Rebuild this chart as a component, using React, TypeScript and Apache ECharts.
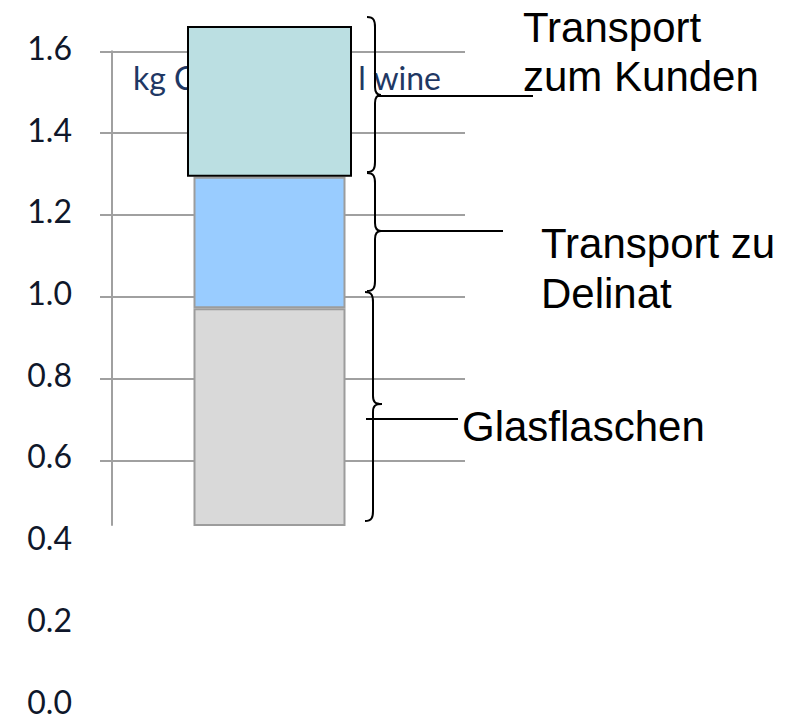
import React, { useEffect, useRef } from 'react';
import * as echarts from 'echarts';

// ---- data ----
const categories = ['Wein'];
const glasflaschen = [0.972];
const transportDelinat = [0.321];
const transportKunden = [0.369];
const seriesNames = ['Glasflaschen', 'Transport zu Delinat', 'Transport zum Kunden'];
const titleText = 'kg CO2e / 0.75 l wine';
const labelLines = [
  ['Transport', 'zum Kunden'],
  ['Transport zu', 'Delinat'],
  ['Glasflaschen'],
];

const GRID_GRAY = '#a0a0a0';
const BLACK = '#000000';

function brace(x: number, y0: number, ym: number, y1: number, tip: number) {
  const st = { stroke: BLACK, lineWidth: 2, fill: 'none' };
  return [
    { type: 'bezierCurve', z: 10, shape: { x1: x - 8, y1: y0, cpx1: x - 1, cpy1: y0, cpx2: x, cpy2: y0 + 4, x2: x, y2: y0 + 10 }, style: st },
    { type: 'line', z: 10, shape: { x1: x, y1: y0 + 10, x2: x, y2: ym - 8 }, style: st },
    { type: 'bezierCurve', z: 10, shape: { x1: x, y1: ym - 8, cpx1: x, cpy1: ym - 2, cpx2: x + 2, cpy2: ym, x2: x + tip, y2: ym }, style: st },
    { type: 'bezierCurve', z: 10, shape: { x1: x + tip, y1: ym, cpx1: x + 2, cpy1: ym, cpx2: x, cpy2: ym + 2, x2: x, y2: ym + 8 }, style: st },
    { type: 'line', z: 10, shape: { x1: x, y1: ym + 8, x2: x, y2: y1 - 10 }, style: st },
    { type: 'bezierCurve', z: 10, shape: { x1: x, y1: y1 - 10, cpx1: x, cpy1: y1 - 4, cpx2: x - 1, cpy2: y1, x2: x - 8, y2: y1 }, style: st },
  ];
}

function label(text: string, x: number, y: number) {
  return {
    type: 'text', z: 10, x, y,
    style: { text, fontSize: 42, fontFamily: '"Liberation Sans", Arial, sans-serif', fill: BLACK, verticalAlign: 'middle', align: 'left' },
  };
}

function hline(x1: number, x2: number, y: number) {
  return { type: 'line', z: 10, shape: { x1, y1: y, x2, y2: y }, style: { stroke: BLACK, lineWidth: 2 } };
}

export default function App() {
  const ref = useRef<HTMLDivElement>(null);
  useEffect(() => {
    if (!ref.current) return;
    const chart = echarts.init(ref.current, null, { renderer: 'svg' });
    const hiddenX = { type: 'category', data: categories, show: false, axisLine: { show: false }, axisTick: { show: false }, axisLabel: { show: false } };
    const splitLine = { show: true, showMinLine: false, lineStyle: { color: GRID_GRAY, width: 2 } };
    const option: any = {
      animation: false,
      backgroundColor: '#ffffff',
      grid: [
        { left: 100, top: 51.3, width: 339, height: 473.6 },
        { left: 439, top: 51.3, width: 26, height: 473.6 },
        { left: 111, top: 47.5, width: 10, height: 653.5 },
      ],
      xAxis: [
        { ...hiddenX, gridIndex: 0 },
        { ...hiddenX, gridIndex: 0 },
        { ...hiddenX, gridIndex: 1 },
        { ...hiddenX, gridIndex: 2 },
      ],
      yAxis: [
        {
          type: 'value', gridIndex: 0, min: 0.442, max: 1.6, offset: -11.5,
          axisLine: { show: true, lineStyle: { color: GRID_GRAY, width: 2 } },
          axisTick: { show: false }, axisLabel: { show: false }, splitLine,
        },
        {
          type: 'value', gridIndex: 1, min: 0.442, max: 1.6,
          axisLine: { show: false }, axisTick: { show: false }, axisLabel: { show: false }, splitLine,
        },
        {
          type: 'value', gridIndex: 2, min: 0, max: 1.6, interval: 0.2,
          axisLine: { show: false }, axisTick: { show: false }, splitLine: { show: false },
          axisLabel: {
            show: true, margin: 39, fontSize: 32, lineHeight: 22, fontFamily: 'Lato, sans-serif', color: '#0f172a',
            formatter: (v: number) => v.toFixed(1),
          },
        },
      ],
      series: [
        {
          name: seriesNames[0], type: 'bar', xAxisIndex: 0, yAxisIndex: 0, stack: 'main', barWidth: 152,
          data: glasflaschen, itemStyle: { color: '#d9d9d9', borderColor: '#9c9c9c', borderWidth: 2 },
        },
        {
          name: seriesNames[1], type: 'bar', xAxisIndex: 0, yAxisIndex: 0, stack: 'main', barWidth: 152,
          data: transportDelinat, itemStyle: { color: '#99ccff', borderColor: '#9c9c9c', borderWidth: 2 },
        },
        {
          name: 'base1', type: 'bar', xAxisIndex: 1, yAxisIndex: 0, stack: 'top', barWidth: 165, silent: true,
          data: glasflaschen, itemStyle: { color: 'transparent', borderWidth: 0 },
        },
        {
          name: 'base2', type: 'bar', xAxisIndex: 1, yAxisIndex: 0, stack: 'top', barWidth: 165, silent: true,
          data: transportDelinat, itemStyle: { color: 'transparent', borderWidth: 0 },
        },
        {
          name: seriesNames[2], type: 'bar', xAxisIndex: 1, yAxisIndex: 0, stack: 'top', barWidth: 165, clip: false,
          data: transportKunden, itemStyle: { color: '#bbdfe2', borderColor: BLACK, borderWidth: 2 },
        },
      ],
      graphic: [
        {
          type: 'text', z: 1, x: 441, y: 77,
          style: { text: titleText, fontSize: 32, fontFamily: 'Lato, sans-serif', fill: '#1f3864', verticalAlign: 'middle', align: 'right' },
        },
        ...brace(375, 17, 95, 172, 6),
        ...brace(375, 173, 231, 291, 6),
        ...brace(373, 292, 404, 521, 9),
        hline(377, 533, 96),
        hline(380, 503, 231),
        hline(366, 458, 419),
        label(labelLines[0][0], 523, 27.5),
        label(labelLines[0][1], 523, 76.5),
        label(labelLines[1][0], 541, 243),
        label(labelLines[1][1], 541, 293),
        label(labelLines[2][0], 462, 426),
      ],
    };
    chart.setOption(option);
    return () => chart.dispose();
  }, []);
  return <div ref={ref} style={{ position: 'absolute', left: 0, top: 0, width: 796, height: 721, background: '#fff' }} />;
}
